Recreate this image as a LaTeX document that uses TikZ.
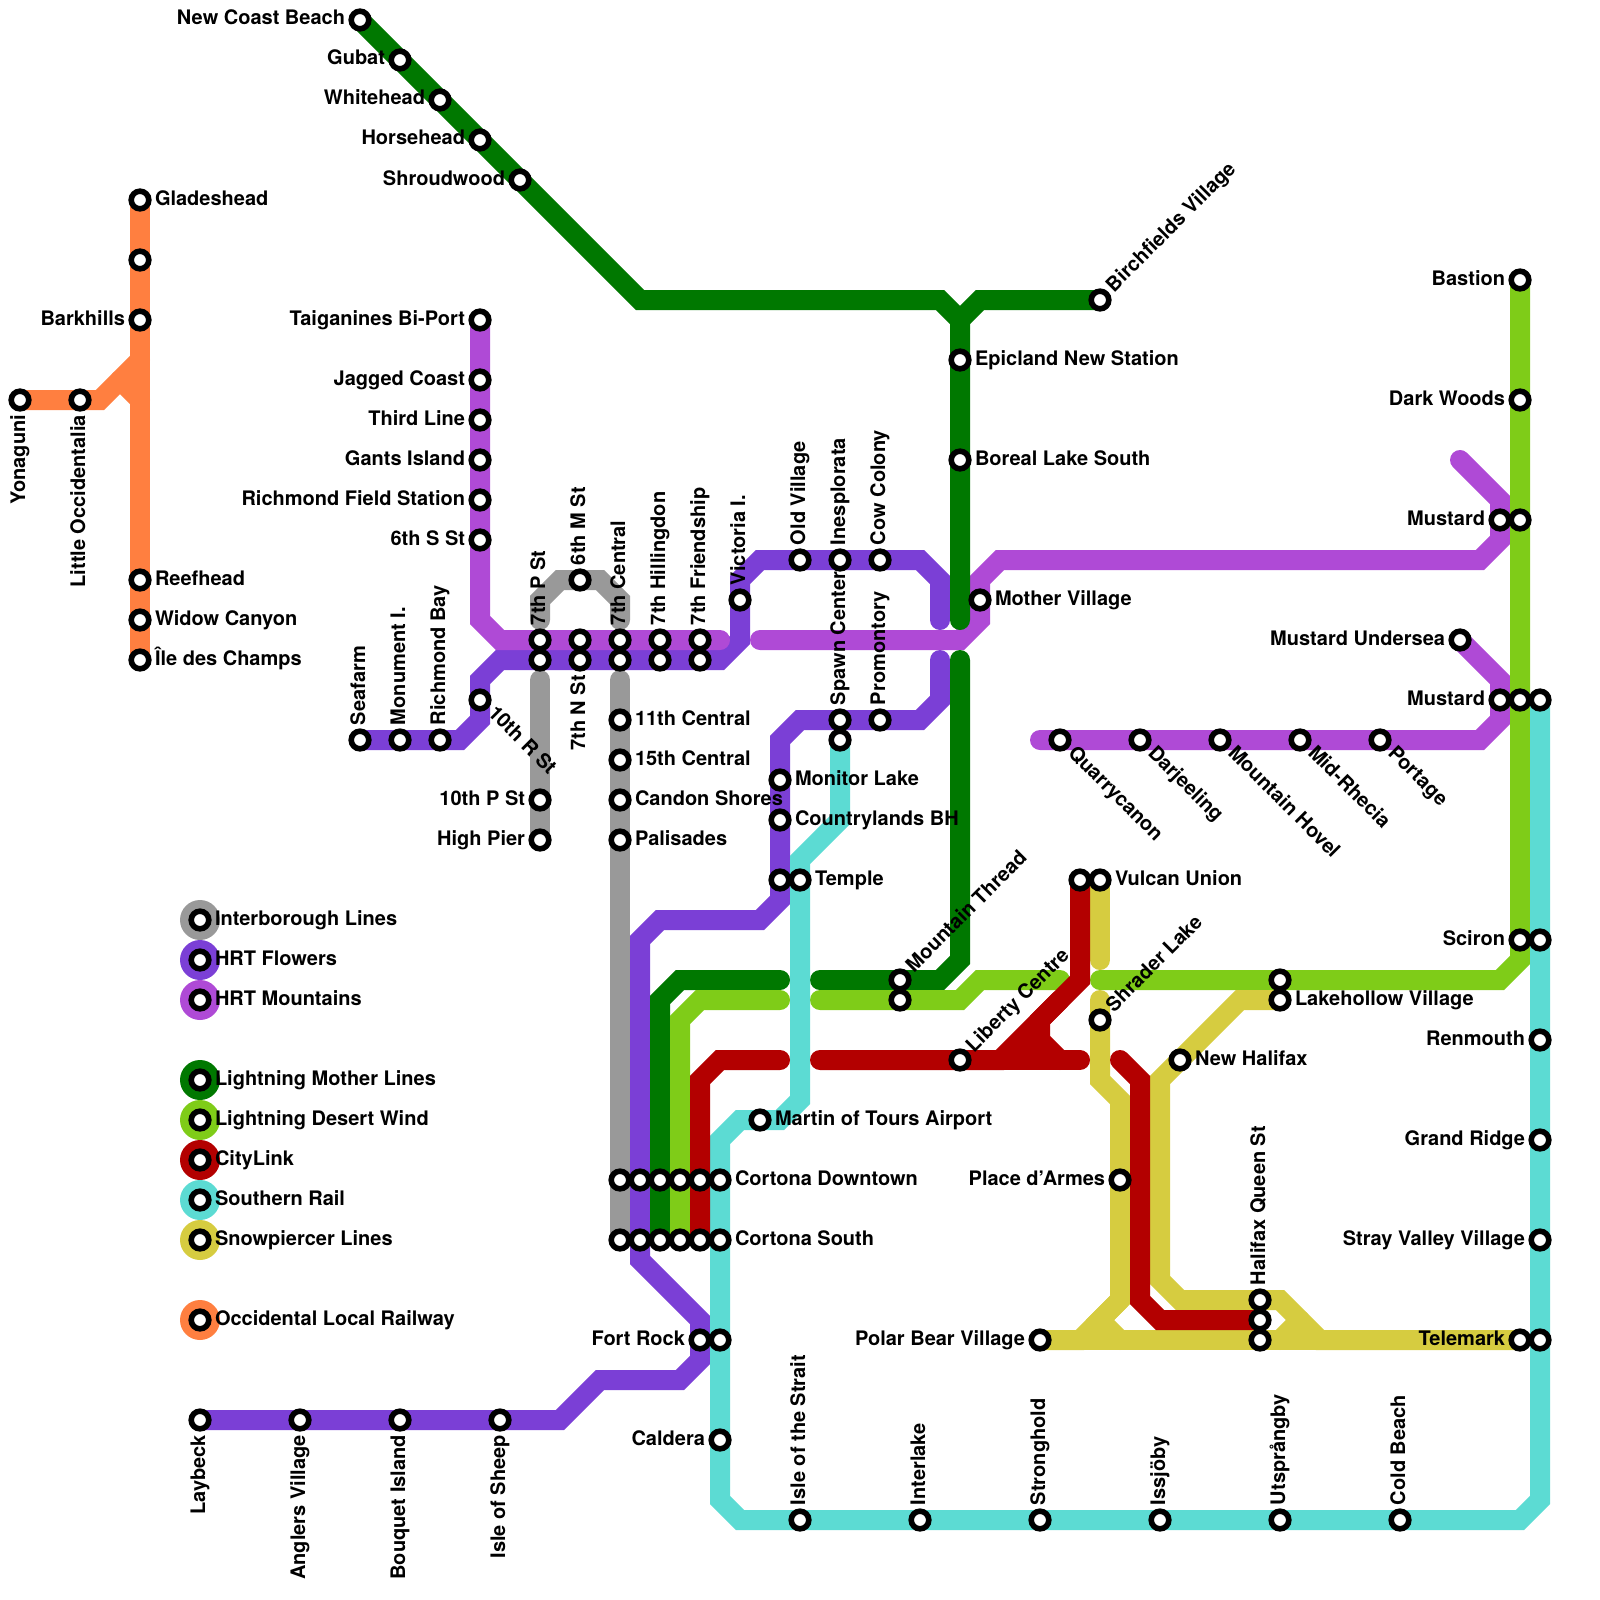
\documentclass[tikz,border=0pt]{standalone}
\usepackage{fontspec}
\setmainfont{TeX Gyre Heros}
\usetikzlibrary{backgrounds}
\definecolor{cgray}{HTML}{999999}
\definecolor{cflow}{HTML}{7B3FD6}
\definecolor{cmnt}{HTML}{AF4AD6}
\definecolor{cdgrn}{HTML}{007800}
\definecolor{clgrn}{HTML}{7FCC18}
\definecolor{cred}{HTML}{B30000}
\definecolor{cteal}{HTML}{5CDBD3}
\definecolor{cyel}{HTML}{D6CC40}
\definecolor{corg}{HTML}{FF7F40}
\pgfdeclarelayer{lines}
\pgfdeclarelayer{labels}
\pgfsetlayers{lines,main,labels}
\tikzset{
  ring/.style={circle,draw=black,fill=white,line width=5.6pt,minimum size=17.6pt,inner sep=0pt,outer sep=0pt},
  swatch/.style={circle,minimum size=40pt,inner sep=0pt,outer sep=0pt},
  lbl/.style={font=\fontsize{20}{22}\selectfont\bfseries,inner sep=0pt,outer sep=0pt,text=black},
  lR/.style={lbl,anchor=base west,xshift=15pt,yshift=-5pt},
  lL/.style={lbl,anchor=base east,xshift=-15pt,yshift=-5pt},
  lU/.style={lbl,xshift=5pt,yshift=15pt,rotate=90,anchor=base west},
  lD/.style={lbl,xshift=5pt,yshift=-15pt,rotate=90,anchor=base east},
  lNE/.style={lbl,xshift=14pt,yshift=7pt,rotate=45,anchor=base west},
  lSE/.style={lbl,xshift=7pt,yshift=-14pt,rotate=-45,anchor=base west},
  track/.style={line width=20pt,line cap=round,line join=miter,miter limit=10},
}
\newcommand\stn[4]{\node[ring] (#1) at (#2) {};
  \begin{pgfonlayer}{labels}\node[#3] (#1L) at (#2) {#4};\end{pgfonlayer}}
\newcommand\dotn[2]{\node[ring] (#1) at (#2) {};}
\newcommand\legendrow[4]{\node[swatch,fill=#2] (sw#1) at (200,#3) {};
  \node[ring] (rg#1) at (200,#3) {};
  \begin{pgfonlayer}{labels}\node[lR] (tx#1) at (200,#3) {#4};\end{pgfonlayer}}
\begin{document}
\begin{tikzpicture}[x=1pt,y=-1pt]
\useasboundingbox (0,0) rectangle (1600,1600);
% Occidental
\stn{yon}{20,400}{lD}{Yonaguni}
\stn{lit}{80,400}{lD}{Little Occidentalia}
\stn{gla}{140,200}{lR}{Gladeshead}
\dotn{oun}{140,260}
\stn{bar}{140,320}{lL}{Barkhills}
\stn{ree}{140,580}{lR}{Reefhead}
\stn{wid}{140,620}{lR}{Widow Canyon}
\stn{ile}{140,660}{lR}{Île des Champs}
% dark green
\stn{ncb}{360,20}{lL}{New Coast Beach}
\stn{gub}{400,60}{lL}{Gubat}
\stn{whi}{440,100}{lL}{Whitehead}
\stn{hor}{480,140}{lL}{Horsehead}
\stn{shr}{520,180}{lL}{Shroudwood}
\stn{bir}{1100,300}{lNE}{Birchfields Village}
\stn{epi}{960,360}{lR}{Epicland New Station}
\stn{bor}{960,460}{lR}{Boreal Lake South}
\stn{mot}{980,600}{lR}{Mother Village}
% mountains west
\stn{tai}{480,320}{lL}{Taiganines Bi-Port}
\stn{jag}{480,380}{lL}{Jagged Coast}
\stn{thi}{480,420}{lL}{Third Line}
\stn{gan}{480,460}{lL}{Gants Island}
\stn{rfs}{480,500}{lL}{Richmond Field Station}
\stn{ssx}{480,540}{lL}{6th S St}
% flowers west
\stn{sea}{360,740}{lU}{Seafarm}
\stn{mon}{400,740}{lU}{Monument I.}
\stn{rib}{440,740}{lU}{Richmond Bay}
\stn{trs}{480,700}{lSE}{10th R St}
% seventh row
\stn{spa}{540,640}{lU}{7th P St}
\dotn{spb}{540,660}
\stn{mst}{580,580}{lU}{6th M St}
\dotn{sma}{580,640}
\stn{snb}{580,660}{lD}{7th N St}
\stn{cea}{620,640}{lU}{7th Central}
\dotn{ceb}{620,660}
\stn{hia}{660,640}{lU}{7th Hillingdon}
\dotn{hib}{660,660}
\stn{fra}{700,640}{lU}{7th Friendship}
\dotn{frb}{700,660}
\stn{vic}{740,600}{lU}{Victoria I.}
\stn{old}{800,560}{lU}{Old Village}
\stn{ine}{840,560}{lU}{Inesplorata}
\stn{cow}{880,560}{lU}{Cow Colony}
\stn{spw}{840,720}{lU}{Spawn Center}
\dotn{spt}{840,740}
\stn{pro}{880,720}{lU}{Promontory}
\stn{c11}{620,720}{lR}{11th Central}
\stn{c15}{620,760}{lR}{15th Central}
\stn{can}{620,800}{lR}{Candon Shores}
\stn{pal}{620,840}{lR}{Palisades}
\stn{tps}{540,800}{lL}{10th P St}
\stn{hip}{540,840}{lL}{High Pier}
\stn{mlk}{780,780}{lR}{Monitor Lake}
\stn{cbh}{780,820}{lR}{Countrylands BH}
\dotn{tma}{780,880}
\stn{tem}{800,880}{lR}{Temple}
% mid
\stn{mta}{900,980}{lNE}{Mountain Thread}
\dotn{mtb}{900,1000}
\stn{lib}{960,1060}{lNE}{Liberty Centre}
\stn{mar}{760,1120}{lR}{Martin of Tours Airport}
\dotn{dta}{620,1180}\dotn{dtb}{640,1180}\dotn{dtc}{660,1180}\dotn{dtd}{680,1180}\dotn{dte}{700,1180}
\stn{cdt}{720,1180}{lR}{Cortona Downtown}
\dotn{csa}{620,1240}\dotn{csb}{640,1240}\dotn{csc}{660,1240}\dotn{csd}{680,1240}\dotn{cse}{700,1240}
\stn{cso}{720,1240}{lR}{Cortona South}
\stn{frk}{700,1340}{lL}{Fort Rock}
\dotn{frt}{720,1340}
\stn{cal}{720,1440}{lL}{Caldera}
\stn{lay}{200,1420}{lD}{Laybeck}
\stn{ang}{300,1420}{lD}{Anglers Village}
\stn{bou}{400,1420}{lD}{Bouquet Island}
\stn{iss}{500,1420}{lD}{Isle of Sheep}
\stn{ist}{800,1520}{lU}{Isle of the Strait}
\stn{int}{920,1520}{lU}{Interlake}
\stn{sth}{1040,1520}{lU}{Stronghold}
\stn{isj}{1160,1520}{lU}{Issjöby}
\stn{uts}{1280,1520}{lU}{Utsprångby}
\stn{col}{1400,1520}{lU}{Cold Beach}
% east
\dotn{vua}{1080,880}
\stn{vul}{1100,880}{lR}{Vulcan Union}
\stn{shl}{1100,1020}{lNE}{Shrader Lake}
\stn{nha}{1180,1060}{lR}{New Halifax}
\dotn{lka}{1280,980}
\stn{lkh}{1280,1000}{lR}{Lakehollow Village}
\stn{pla}{1120,1180}{lL}{Place d’Armes}
\stn{pol}{1040,1340}{lL}{Polar Bear Village}
\stn{hal}{1260,1300}{lU}{Halifax Queen St}
\dotn{hab}{1260,1320}
\dotn{hac}{1260,1340}
\stn{tel}{1520,1340}{lL}{Telemark}
\dotn{tet}{1540,1340}
\stn{sci}{1520,940}{lL}{Sciron}
\dotn{sct}{1540,940}
\stn{ren}{1540,1040}{lL}{Renmouth}
\stn{gra}{1540,1140}{lL}{Grand Ridge}
\stn{str}{1540,1240}{lL}{Stray Valley Village}
\stn{bas}{1520,280}{lL}{Bastion}
\stn{dar}{1520,400}{lL}{Dark Woods}
\stn{mua}{1500,520}{lL}{Mustard}
\dotn{mub}{1520,520}
\stn{muc}{1500,700}{lL}{Mustard}
\dotn{mud}{1520,700}
\dotn{mue}{1540,700}
\stn{mun}{1460,640}{lL}{Mustard Undersea}
\stn{qua}{1060,740}{lSE}{Quarrycanon}
\stn{dje}{1140,740}{lSE}{Darjeeling}
\stn{mho}{1220,740}{lSE}{Mountain Hovel}
\stn{mid}{1300,740}{lSE}{Mid-Rhecia}
\stn{por}{1380,740}{lSE}{Portage}
% legend
\legendrow{a}{cgray}{920}{Interborough Lines}
\legendrow{b}{cflow}{960}{HRT Flowers}
\legendrow{c}{cmnt}{1000}{HRT Mountains}
\legendrow{d}{cdgrn}{1080}{Lightning Mother Lines}
\legendrow{e}{clgrn}{1120}{Lightning Desert Wind}
\legendrow{f}{cred}{1160}{CityLink}
\legendrow{g}{cteal}{1200}{Southern Rail}
\legendrow{h}{cyel}{1240}{Snowpiercer Lines}
\legendrow{i}{corg}{1320}{Occidental Local Railway}
% tracks
\begin{pgfonlayer}{lines}
% orange
\draw[track,corg] (yon.center) -- (100,400) -- (140,360);
\draw[track,corg] (ile.center) -- (gla.center);
\draw[track,corg] (140,400) -- (120,380);
% gray
\draw[track,cgray] (540,620) -- (540,600) -- (560,580) -- (600,580) -- (620,600) -- (620,620);
\draw[track,cgray] (540,680) -- (hip.center);
\draw[track,cgray] (620,680) -- (csa.center);
% flowers
\draw[track,cflow] (lay.center) -- (560,1420) -- (600,1380) -- (680,1380) -- (700,1360) -- (700,1320) -- (640,1260) -- (640,940) -- (660,920) -- (760,920) -- (780,900) -- (780,740) -- (800,720) -- (920,720) -- (940,700) -- (940,660);
\draw[track,cflow] (940,620) -- (940,580) -- (920,560) -- (760,560) -- (740,580) -- (740,640) -- (720,660) -- (500,660) -- (480,680) -- (480,720) -- (460,740) -- (sea.center);
% mountains
\draw[track,cmnt] (tai.center) -- (480,620) -- (500,640) -- (720,640);
\draw[track,cmnt] (760,640) -- (960,640) -- (980,620) -- (980,580) -- (1000,560) -- (1480,560) -- (1500,540) -- (1500,500) -- (1460,460);
\draw[track,cmnt] (mun.center) -- (1500,680) -- (1500,720) -- (1480,740) -- (1040,740);
% dark green
\draw[track,cdgrn] (ncb.center) -- (640,300) -- (940,300) -- (960,320) -- (960,620);
\draw[track,cdgrn] (bir.center) -- (980,300) -- (960,320);
\draw[track,cdgrn] (960,660) -- (960,960) -- (940,980) -- (820,980);
\draw[track,cdgrn] (780,980) -- (680,980) -- (660,1000) -- (csc.center);
% light green
\draw[track,clgrn] (csd.center) -- (680,1020) -- (700,1000) -- (780,1000);
\draw[track,clgrn] (820,1000) -- (960,1000) -- (980,980) -- (1060,980);
\draw[track,clgrn] (1100,980) -- (1500,980) -- (1520,960) -- (bas.center);
% teal
\draw[track,cteal] (spt.center) -- (840,820) -- (800,860) -- (800,1100) -- (780,1120) -- (740,1120) -- (720,1140) -- (720,1500) -- (740,1520) -- (1520,1520) -- (1540,1500) -- (mue.center);
% yellow
\draw[track,cyel] (vul.center) -- (1100,960);
\draw[track,cyel] (1100,1000) -- (1100,1080) -- (1120,1100) -- (1120,1300) -- (1080,1340) -- (pol.center);
\draw[track,cyel] (1120,1300) -- (1100,1320) -- (1120,1340);
\draw[track,cyel] (pol.center) -- (tel.center);
\draw[track,cyel] (lkh.center) -- (1240,1000) -- (1160,1080) -- (1160,1280) -- (1180,1300) -- (1280,1300) -- (1320,1340) -- (tel.center);
\draw[track,cyel] (1300,1320) -- (1280,1340);
% red
\fill[cred] (1040,1020) -- (1000,1060) -- (1040,1060) -- cycle;
\draw[track,cred] (vua.center) -- (1080,980) -- (1000,1060) -- (820,1060);
\draw[track,cred] (1060,1000) -- (1040,1020) -- (1040,1040) -- (1060,1060);
\draw[track,cred] (1000,1060) -- (1080,1060);
\draw[track,cred] (cse.center) -- (700,1080) -- (720,1060) -- (780,1060);
\draw[track,cred] (1120,1060) -- (1140,1080) -- (1140,1300) -- (1160,1320) -- (hab.center);
\end{pgfonlayer}
\end{tikzpicture}
\end{document}
